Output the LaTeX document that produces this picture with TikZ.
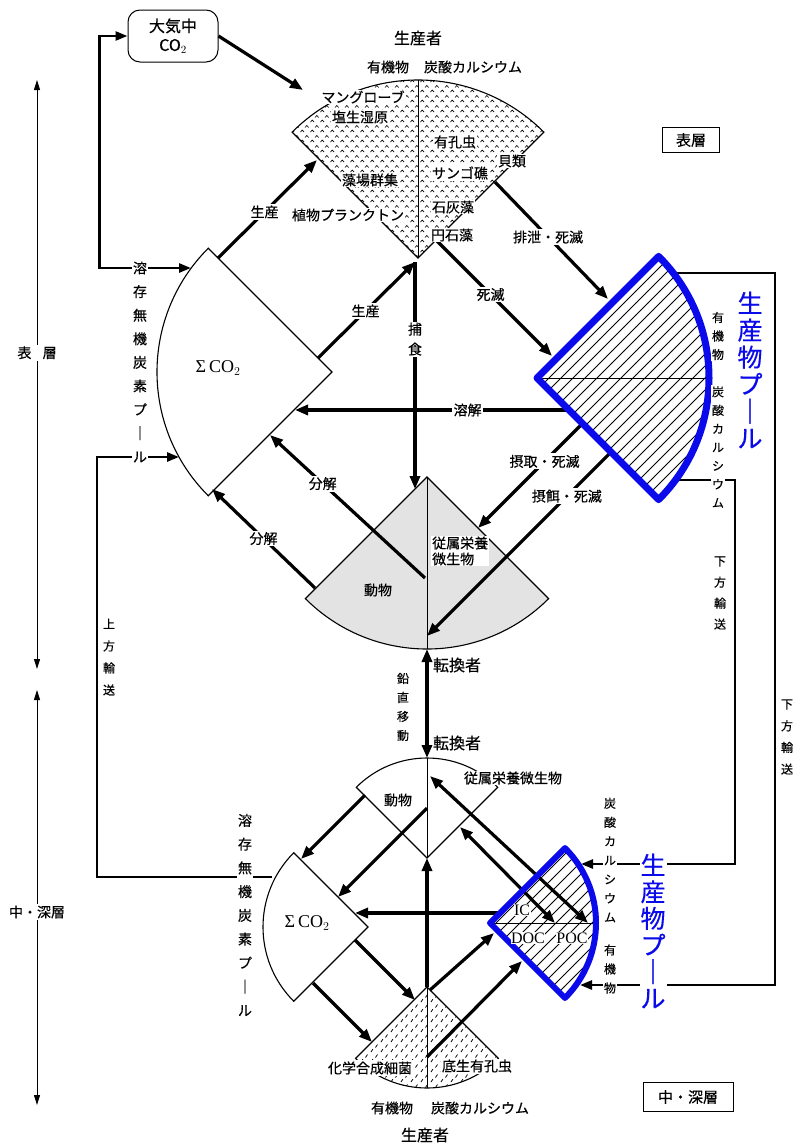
\documentclass[tikz,border=0pt]{standalone}
\usepackage{fontspec}
\setmainfont{Noto Sans CJK JP}[FakeBold=0.45]
\newfontfamily\romanfont{Liberation Serif}
\usetikzlibrary{arrows.meta,patterns}
\definecolor{poolblue}{RGB}{10,10,235}

% fill patterns of the sectors
\pgfdeclarepatternformonly{carets}{\pgfpointorigin}{\pgfpoint{10pt}{10pt}}{\pgfpoint{10pt}{10pt}}{%
  \pgfsetlinewidth{0.7pt}%
  \pgfpathmoveto{\pgfpoint{0.5pt}{1pt}}\pgfpathlineto{\pgfpoint{2.5pt}{3.2pt}}\pgfpathlineto{\pgfpoint{4.5pt}{1pt}}%
  \pgfpathmoveto{\pgfpoint{5.5pt}{6pt}}\pgfpathlineto{\pgfpoint{7.5pt}{8.2pt}}\pgfpathlineto{\pgfpoint{9.5pt}{6pt}}%
  \pgfusepath{stroke}}
\pgfdeclarepatternformonly{slashes}{\pgfpointorigin}{\pgfpoint{10pt}{10pt}}{\pgfpoint{10pt}{10pt}}{%
  \pgfsetlinewidth{0.8pt}%
  \pgfpathmoveto{\pgfpoint{1pt}{1pt}}\pgfpathlineto{\pgfpoint{3.2pt}{4.2pt}}%
  \pgfpathmoveto{\pgfpoint{6pt}{6pt}}\pgfpathlineto{\pgfpoint{8.2pt}{9.2pt}}%
  \pgfusepath{stroke}}
\pgfdeclarepatternformonly{hatch}{\pgfqpoint{-1pt}{-1pt}}{\pgfqpoint{13pt}{13pt}}{\pgfqpoint{12pt}{12pt}}{%
  \pgfsetlinewidth{0.8pt}%
  \pgfpathmoveto{\pgfqpoint{0pt}{0pt}}\pgfpathlineto{\pgfqpoint{12.1pt}{12.1pt}}%
  \pgfusepath{stroke}}

\tikzset{
  sectorline/.style={draw,line width=1.1pt},
  divider/.style={line width=0.9pt},
  flow/.style={line width=3.2pt,-{Triangle[length=13pt,width=10pt]}},
  twoflow/.style={line width=3.2pt,{Triangle[length=13pt,width=10pt]}-{Triangle[length=13pt,width=10pt]}},
  route/.style={line width=2.6pt,-{Triangle[length=12pt,width=9pt]}},
  layeraxis/.style={line width=1pt,{Triangle[length=10pt,width=6pt]}-{Triangle[length=10pt,width=6pt]}},
  lab/.style={font=\fontsize{14}{16}\selectfont,fill=white,inner sep=1.5pt},
  txt/.style={font=\fontsize{14}{16}\selectfont,inner sep=1pt},
  hdtext/.style={font=\fontsize{16}{18}\selectfont,inner sep=1pt},
  rom/.style={font=\romanfont\fontsize{18}{20}\selectfont,inner sep=1pt},
  acr/.style={fill=white,inner sep=0.5pt,font=\romanfont\fontsize{16}{18}\selectfont},
  vlab/.style={align=center,fill=white,inner sep=1pt,font=\fontsize{14}{#1}\selectfont},
  vsmall/.style={align=center,fill=white,inner sep=1pt,font=\fontsize{12}{#1}\selectfont},
  vblue/.style={align=center,fill=white,inner sep=1pt,text=poolblue,font=\fontsize{25}{#1}\selectfont},
  poolline/.style={poolblue,line width=#1,line join=round},
  layerbox/.style={draw,line width=0.9pt,font=\fontsize{15}{17}\selectfont}
}

\begin{document}
\begin{tikzpicture}[x=1pt,y=-1pt]
\useasboundingbox (0,0) rectangle (799,1143);

% apexes of the sectors
\coordinate (pS) at (418,258);
\coordinate (cS) at (332,372);
\coordinate (bS) at (537,378);
\coordinate (tS) at (427,477);
\coordinate (tD) at (427,858);
\coordinate (cD) at (368,927);
\coordinate (bD) at (490,923);
\coordinate (pD) at (427,987);

% surface layer sectors
\draw[sectorline,pattern=carets] (pS) -- ++(-135:178) arc[start angle=-135,end angle=-45,radius=178] -- cycle;
\draw[divider] (pS) -- ++(-90:178);
\draw[sectorline,fill=white] (cS) -- ++(135:175) arc[start angle=135,end angle=225,radius=175] -- cycle;
\draw[sectorline,pattern=hatch] (bS) -- ++(-45:172) arc[start angle=-45,end angle=45,radius=172] -- cycle;
\draw[divider] (bS) -- ++(0:172);
\draw[sectorline,fill=black!11] (tS) -- ++(45:172) arc[start angle=45,end angle=135,radius=172] -- cycle;
\draw[divider] (tS) -- ++(90:172);

% deep layer sectors
\draw[sectorline] (tD) -- ++(-135:100) arc[start angle=-135,end angle=-45,radius=100] -- cycle;
\draw[divider] (tD) -- ++(-90:100);
\draw[sectorline,fill=white] (cD) -- ++(135:105) arc[start angle=135,end angle=225,radius=105] -- cycle;
\draw[sectorline,pattern=hatch] (bD) -- ++(-45:106) arc[start angle=-45,end angle=45,radius=106] -- cycle;
\draw[divider] (bD) -- ++(0:106);
\draw[sectorline,pattern=slashes] (pD) -- ++(45:101) arc[start angle=45,end angle=135,radius=101] -- cycle;
\draw[divider] (pD) -- ++(90:101);

% boxes
\node[draw,line width=1pt,rounded corners=12pt,minimum width=90pt,minimum height=52pt,align=center,
      font=\fontsize{16}{19}\selectfont] (atm) at (173,36) {大気中\\CO$_2$};
\node[layerbox,minimum width=57pt,minimum height=25pt] (surfbox) at (691,140) {表層};
\node[layerbox,minimum width=90pt,minimum height=29pt] (deepbox) at (688,1097) {中・深層};

% end points of the flows
\coordinate (atmIn) at (303,90);
\coordinate (cSup1) at (218,258);  \coordinate (pSl1) at (317,160);
\coordinate (cSup2) at (318,358);  \coordinate (pStip) at (415,262);
\coordinate (tSl0) at (415,489);
\coordinate (bSdis) at (569,410);  \coordinate (cSdis) at (295,410);
\coordinate (pSr1) at (436,240);   \coordinate (bSu1) at (552,356);
\coordinate (pSr2) at (495,182);   \coordinate (bSu2) at (608,299);
\coordinate (bSl1) at (582,424);   \coordinate (tSr1) at (478,528);
\coordinate (bSl2) at (611,452);   \coordinate (tSmid) at (427,636);
\coordinate (tSc) at (425,578);    \coordinate (cSlo1) at (270,435);
\coordinate (tSl2) at (315,588);   \coordinate (cSlo2) at (212,489);
\coordinate (tSbot) at (427,649);  \coordinate (tDtop) at (427,758);
\coordinate (tDl) at (365,795);    \coordinate (cDu1) at (301,859);
\coordinate (tDm) at (427,808);    \coordinate (cDu2) at (338,897);
\coordinate (bDu) at (502,913);    \coordinate (cDtip) at (355,913);
\coordinate (cDlo1) at (313,983);  \coordinate (pDl1) at (372,1042);
\coordinate (cDlo2) at (355,940);  \coordinate (pDl2) at (415,1000);
\coordinate (pDr) at (430,990);    \coordinate (bDl1) at (494,933);
\coordinate (pDm) at (427,1057);   \coordinate (bDl2) at (522,961);
\coordinate (tDm2) at (430,776);   \coordinate (bDm1) at (588,923);
\coordinate (tDr) at (460,827);    \coordinate (bDm2) at (555,923);
\coordinate (bSout) at (673,273);  \coordinate (bDout) at (580,985);
\coordinate (bSin) at (675,480);   \coordinate (bDin) at (581,864);
\coordinate (cSin) at (191,268);   \coordinate (cSlo3) at (179,457);
\coordinate (cDout) at (272,877);

% surface flows
\draw[flow] (atm.east) -- (atmIn);
\draw[flow] (cSup1) -- node[pos=0.47,lab] {生産} (pSl1);
\draw[flow] (cSup2) -- node[pos=0.49,lab] {生産} (pStip);
\draw[flow] (pStip) -- node[pos=0.34,vlab=20] {捕\\食} (tSl0);
\draw[flow] (bSdis) -- node[pos=0.37,lab] {溶解} (cSdis);
\draw[flow] (pSr1) -- node[pos=0.47,lab] {死滅} (bSu1);
\draw[flow] (pSr2) -- node[pos=0.47,lab] {排泄・死滅} (bSu2);
\draw[flow] (bSl1) -- node[pos=0.36,lab] {摂取・死滅} (tSr1);
\draw[flow] (bSl2) -- node[pos=0.24,lab] {摂餌・死滅} (tSmid);
\draw[flow] (tSc) -- node[pos=0.66,lab] {分解} (cSlo1);
\draw[flow] (tSl2) -- node[pos=0.5,lab] {分解} (cSlo2);
\draw[twoflow] (tSbot) -- (tDtop);

% deep flows
\draw[flow] (tDl) -- (cDu1);
\draw[flow] (tDm) -- (cDu2);
\draw[flow] (pD) -- (tD);
\draw[flow] (bDu) -- (cDtip);
\draw[flow] (cDlo1) -- (pDl1);
\draw[flow] (cDlo2) -- (pDl2);
\draw[flow] (pDr) -- (bDl1);
\draw[flow] (pDm) -- (bDl2);
\draw[twoflow] (tDm2) -- (bDm1);
\draw[twoflow] (tDr) -- (bDm2);

% transport between the layers
\draw[route] (bSout) -- ++(102,0) |- (bDout);
\draw[route] (bSin) -- ++(60,0) |- (bDin);
\draw[route,{Triangle[length=12pt,width=9pt]}-{Triangle[length=12pt,width=9pt]}] (atm.west) -- ++(-28,0) |- (cSin);
\draw[route] (cDout) -- ++(-175,0) |- (cSlo3);

% layer axis
\coordinate (axTop) at (37,80);
\coordinate (axMidA) at (37,669);
\coordinate (axMidB) at (37,690);
\coordinate (axBot) at (37,1105);
\draw[layeraxis] (axTop) -- node[pos=0.463,lab] {表\hspace{0.8em}層} (axMidA);
\draw[layeraxis] (axMidB) -- node[pos=0.535,lab] {中・深層} (axBot);

% blue outlines of the pools
\draw[poolline=7pt] (bS) -- ++(-45:172) arc[start angle=-45,end angle=45,radius=172] -- cycle;
\draw[poolline=6pt] (bD) -- ++(-45:106) arc[start angle=-45,end angle=45,radius=106] -- cycle;

% texts, surface
\node[hdtext] (prodTop) at (418,38) {生産者};
\node[txt] (orgTop) at (388,67) {有機物};
\node[txt] (carbTop) at (473,67) {炭酸カルシウム};
\node[lab,inner sep=1pt] (mangrove) at (363,97) {マングローブ};
\node[lab,inner sep=1pt] (marsh) at (360,117) {塩生湿原};
\node[lab,inner sep=1pt] (seagrass) at (370,180) {藻場群集};
\node[lab,inner sep=1pt] (plankton) at (348,215) {植物プランクトン};
\node[lab,inner sep=1pt] (foram) at (455,142) {有孔虫};
\node[lab,inner sep=1pt] (shell) at (512,161) {貝類};
\node[lab,inner sep=1pt] (coral) at (460,173) {サンゴ礁};
\node[lab,inner sep=1pt] (calcalga) at (453,207) {石灰藻};
\node[lab,inner sep=1pt] (cocco) at (452,235) {円石藻};
\node[rom] (sigmaS) at (218,368) {Σ\,CO$_2$};
\node[vlab=23.6] (dicS) at (140,362) {溶\\存\\無\\機\\炭\\素\\プ\\｜\\ル};
\node[txt] (animalS) at (378,590) {動物};
\node[lab,align=left,anchor=west,inner sep=1pt] (heteroS) at (431,551) {従属栄養\\微生物};
\node[hdtext] (convS) at (457,665) {転換者};
\node[vsmall=19] (vert) at (403,707) {鉛\\直\\移\\動};
\node[hdtext] (convD) at (457,743) {転換者};
\node[vsmall=18.5] (orgPS) at (718,336) {有\\機\\物};
\node[vsmall=18.5] (carbPS) at (718,447) {炭\\酸\\カ\\ル\\シ\\ウ\\ム};
\node[vblue=27] (poolS) at (750,370) {生\\産\\物\\プ\\｜\\ル};
\node[vsmall=21] (downIn) at (720,593) {下\\方\\輸\\送};
\node[vsmall=21.7] (downOut) at (787,737) {下\\方\\輸\\送};
\node[vsmall=22] (upward) at (109,657) {上\\方\\輸\\送};

% texts, deep
\node[txt] (animalD) at (398,800) {動物};
\node[lab,inner sep=1pt] (heteroD) at (513,778) {従属栄養微生物};
\node[rom] (sigmaD) at (307,923) {Σ\,CO$_2$};
\node[vlab=23.75] (dicD) at (245,915) {溶\\存\\無\\機\\炭\\素\\プ\\｜\\ル};
\node[acr] (ic) at (522,910) {IC};
\node[acr] (doc) at (528,938) {DOC};
\node[acr] (poc) at (572,938) {POC};
\node[vsmall=19] (carbPD) at (610,860) {炭\\酸\\カ\\ル\\シ\\ウ\\ム};
\node[vsmall=19] (orgPD) at (610,969) {有\\機\\物};
\node[vblue=26.6] (poolD) at (653,931) {生\\産\\物\\プ\\｜\\ル};
\node[lab,inner sep=1pt] (chemo) at (370,1068) {化学合成細菌};
\node[lab,inner sep=1pt] (benthic) at (477,1066) {底生有孔虫};
\node[txt] (orgBot) at (392,1108) {有機物};
\node[txt] (carbBot) at (480,1108) {炭酸カルシウム};
\node[hdtext] (prodBot) at (425,1135) {生産者};
\end{tikzpicture}
\end{document}
